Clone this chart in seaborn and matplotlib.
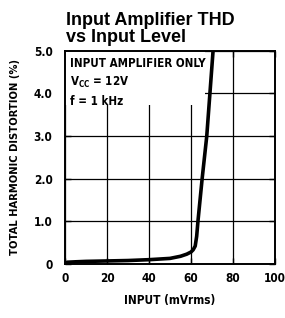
import matplotlib
matplotlib.use("Agg")
import matplotlib.pyplot as plt
from matplotlib.patches import Rectangle
import seaborn as sns
import pandas as pd

# Data
input_mv = [0, 1, 5, 10, 20, 30, 40, 50, 55, 58, 60, 61, 62, 62.7, 63.3, 64.3, 65.3, 67.5, 69.0, 70.5]
thd_pct = [0.0, 0.04, 0.05, 0.06, 0.07, 0.08, 0.10, 0.13, 0.18, 0.23, 0.28, 0.33, 0.42, 0.65, 1.0, 1.5, 2.0, 3.0, 4.0, 5.0]
x_ticks = [0, 20, 40, 60, 80, 100]
y_ticks = [0, 1, 2, 3, 4, 5]
y_tick_labels = ["0", "1.0", "2.0", "3.0", "4.0", "5.0"]
title_text = "Input Amplifier THD\nvs Input Level"
annotation_lines = ["INPUT AMPLIFIER ONLY", "V$_{\\mathregular{CC}}$ = 12V", "f = 1 kHz"]

sns.set_theme(style="white")
plt.rcParams['font.family'] = ['DejaVu Sans']
plt.rcParams['font.stretch'] = 'condensed'
plt.rcParams['text.color'] = 'black'
plt.rcParams['axes.labelcolor'] = 'black'
plt.rcParams['xtick.color'] = 'black'
plt.rcParams['ytick.color'] = 'black'

df = pd.DataFrame({"x": input_mv, "y": thd_pct})

fig = plt.figure(figsize=(2.85, 3.18), dpi=100)
ax = fig.add_axes([0.228, 0.170, 0.737, 0.670])

ax.set_axisbelow(True)
sns.lineplot(data=df, x="x", y="y", ax=ax, color="black", linewidth=2.6, sort=False, zorder=4)

ax.set_xlim(0, 100)
ax.set_ylim(0, 5)
ax.set_xticks(x_ticks)
ax.set_yticks(y_ticks)
ax.set_xticklabels([str(t) for t in x_ticks], fontweight="bold", fontsize=8.5)
ax.set_yticklabels(y_tick_labels, fontweight="bold", fontsize=8.5)
ax.tick_params(axis="both", which="both", direction="in", length=4, width=1,
               top=True, right=True, bottom=True, left=True, colors="black")
ax.tick_params(axis="x", pad=6)
ax.tick_params(axis="y", pad=9)
ax.grid(True, color="black", linewidth=0.9)
for s in ax.spines.values():
    s.set_visible(True)
    s.set_color("black")
    s.set_linewidth(1.4)

# white area behind the annotation block
ax.add_patch(Rectangle((0, 3.72), 66.5, 1.28, facecolor="white", edgecolor="none", zorder=2))

ax.set_xlabel("INPUT (mVrms)", fontweight="bold", fontsize=8.5, labelpad=6)
ax.set_ylabel("TOTAL HARMONIC DISTORTION (%)", fontweight="bold", fontsize=8, labelpad=10)

fig.text(0.230, 0.855, title_text, fontsize=13, fontweight="bold", fontstretch="normal",
         family=["Liberation Sans", "DejaVu Sans"], ha="left", va="bottom", linespacing=1.0)

ax.text(2.5, 4.85, "\n".join(annotation_lines), fontsize=8.3, fontweight="bold",
        ha="left", va="top", linespacing=1.45, zorder=5)

fig.savefig("out.png", dpi=100)
